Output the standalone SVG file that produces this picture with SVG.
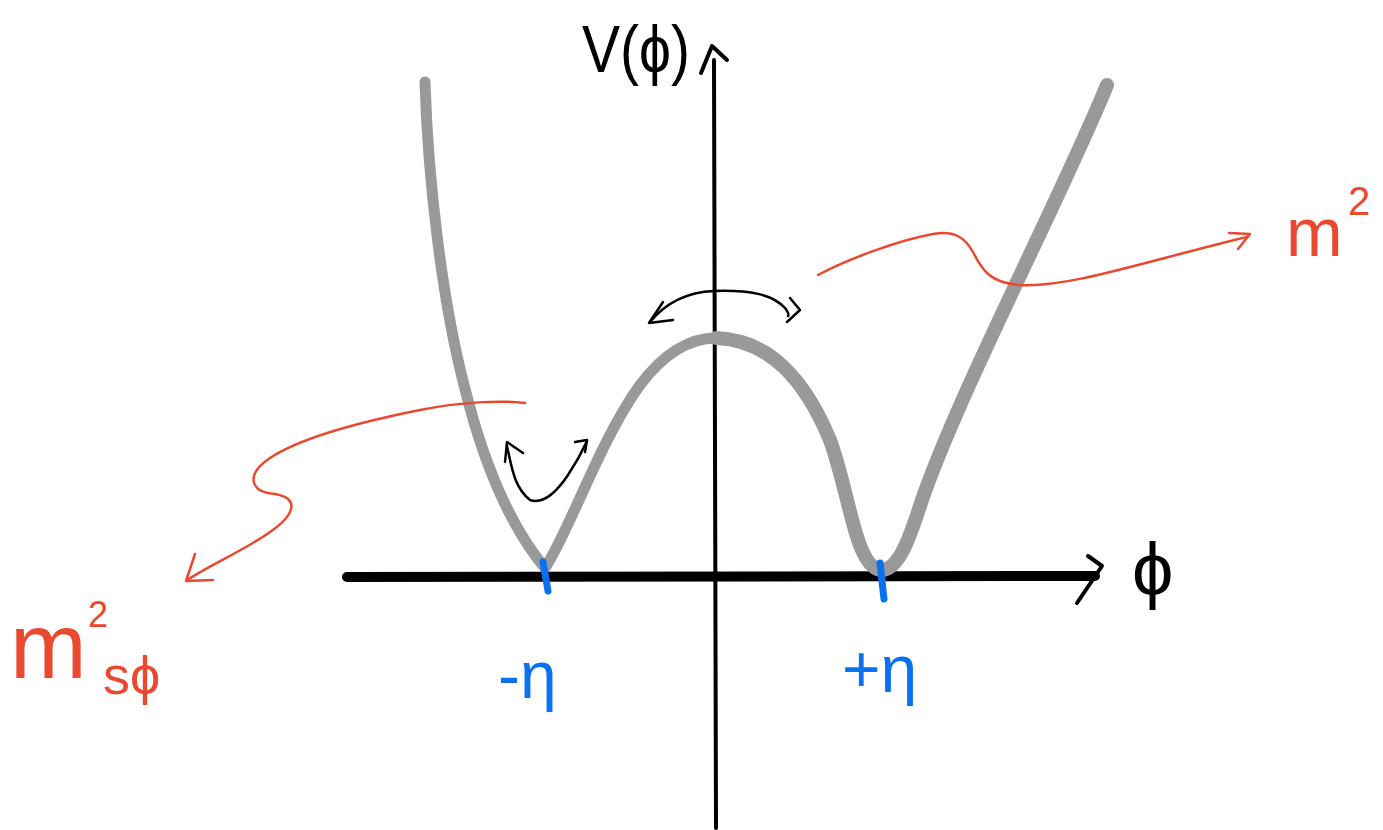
<svg xmlns="http://www.w3.org/2000/svg" width="1383" height="830" viewBox="0 0 1383 830">
<style>
.ax{stroke:#000;fill:none;stroke-linecap:round;stroke-linejoin:round}
.pot{stroke:#999;fill:none;stroke-linecap:round;stroke-linejoin:round}
.red{stroke:#e9492f;fill:none;stroke-width:2.5;stroke-linecap:round;stroke-linejoin:round}
.blk{stroke:#000;fill:none;stroke-width:2.5;stroke-linecap:round;stroke-linejoin:round}
.tick{stroke:#0a72f0;stroke-width:7;stroke-linecap:round}
.t{font-family:"Liberation Sans","DejaVu Sans",sans-serif}
.tr{fill:#e9492f}
.tb{fill:#0a72f0}
</style>
<rect width="1383" height="830" fill="#fff"/>
<g id="axes">
  <path class="ax" stroke-width="4" d="M714 60 L716 828"/>
  <path class="ax" stroke-width="4" d="M701 73 L712 46 L727 60"/>
  <path class="ax" stroke-width="10" d="M347 577 L1095 576"/>
  <path class="ax" stroke-width="4" d="M1088 556 L1102 566 L1077 603"/>
</g>
<g id="potential">
  <path class="pot" stroke-width="11" d="M425 82 C428 180 442 300 464 385 C480 450 505 520 545 568 C570 530 600 440 640 385 C665 352 690 338 716 338"/>
  <path class="pot" stroke-width="14" d="M716 338 C770 340 805 380 830 440 C850 495 855 565 880 570 C900 572 912 530 922 500 C960 390 1060 200 1107 85"/>
</g>
<g id="ticks">
  <line class="tick" x1="543" y1="562" x2="548" y2="591"/>
  <line class="tick" x1="880" y1="563" x2="884" y2="599"/>
</g>
<g id="connectors">
  <path class="red" d="M525 403 C500 400 460 402 420 410 C360 422 300 438 270 458 C245 475 250 492 275 494 C300 498 295 515 270 532 C245 550 215 562 187 580"/>
  <path class="red" d="M195 554 L186 581 L213 580"/>
  <path class="red" d="M818 275 C850 258 900 240 933 234 C955 230 965 238 973 252 C982 270 990 283 1020 285 C1070 288 1150 260 1247 237"/>
  <path class="red" d="M1229 233 L1250 234 L1238 249"/>
  <path class="blk" d="M650 322 C668 300 690 292 714 291 C750 290 772 294 785 308 C788 312 789 315 788 316"/>
  <path class="blk" d="M663 302 L649 323 L673 320"/>
  <path class="blk" d="M790 298 L800 310 L787 322"/>
  <path class="blk" d="M507 446 C512 470 515 488 530 500 C545 505 558 490 568 475 C576 463 582 452 587 441"/>
  <path class="blk" d="M505 462 L507 442 L523 453"/>
  <path class="blk" d="M575 442 L587 440 L585 452"/>
</g>
<g id="label-V">
  <text class="t" x="582" y="72" font-size="66" textLength="108" lengthAdjust="spacingAndGlyphs">V(ϕ)</text>
</g>
<g id="label-phi">
  <text class="t" x="1132" y="595" font-size="74">ϕ</text>
</g>
<g id="label-m2">
  <text class="t tr" x="1286" y="256" font-size="68">m</text>
  <text class="t tr" x="1348" y="215" font-size="40">2</text>
</g>
<g id="label-ms">
  <text class="t tr" x="10" y="678" font-size="92">m</text>
  <text class="t tr" x="88" y="627" font-size="36">2</text>
  <text class="t tr" x="103" y="694" font-size="54">sϕ</text>
</g>
<g id="label-neg-eta">
  <text class="t tb" x="498" y="698" font-size="66">-η</text>
</g>
<g id="label-pos-eta">
  <text class="t tb" x="842" y="692" font-size="66">+η</text>
</g>
</svg>
